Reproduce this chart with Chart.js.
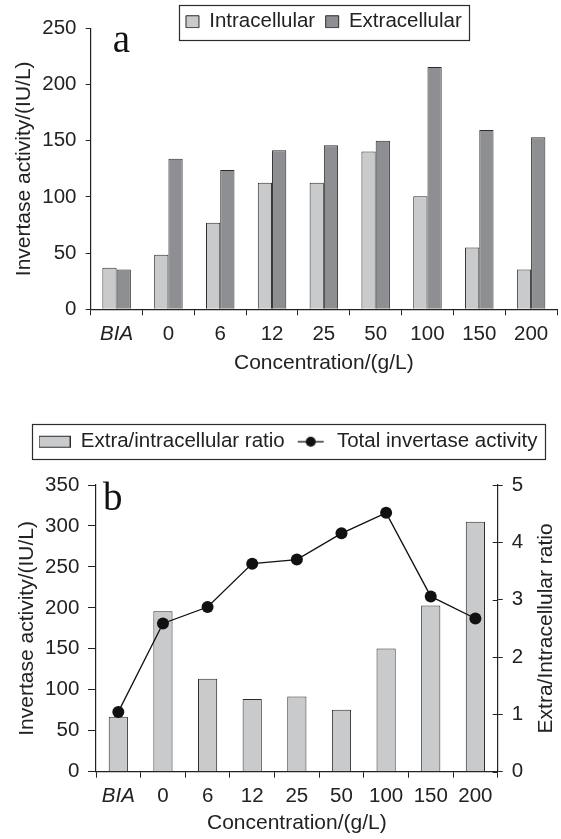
<!DOCTYPE html>
<html>
<head>
<meta charset="utf-8">
<script src="https://cdn.jsdelivr.net/npm/chart.js@4.4.1/dist/chart.umd.min.js"></script>
<style>
  html, body { margin: 0; padding: 0; background: #fff; }
  .panel { position: absolute; left: 0; }
</style>
</head>
<body>
<div class="panel" style="top:0"><canvas id="chartA" width="561" height="400"></canvas></div>
<div class="panel" style="top:400px"><canvas id="chartB" width="561" height="439"></canvas></div>
<script>
/////////////////////
//      Data       //
/////////////////////
const concentrations = ['BIA', '0', '6', '12', '25', '50', '100', '150', '200'];
const intracellular = [37, 48.5, 77, 112.5, 112.5, 140.5, 100.5, 55, 35.5];
const extracellular = [35.5, 134, 124, 141.5, 146, 150, 215.5, 159.5, 153];
const ratio = [0.96, 2.8, 1.62, 1.27, 1.31, 1.08, 2.15, 2.9, 4.36];
const totalActivity = [73, 181, 201, 254, 259, 291, 316, 214, 187];


/////////////////////
//    Constants    //
/////////////////////
const FONT = "'Liberation Sans', Arial, sans-serif";
const INK = '#222';
const LIGHT = '#c9cacc';
const DARK = '#8e8f93';
const EDGE = '#2b2b2b';

Chart.defaults.font.family = FONT;
Chart.defaults.font.size = 20.5;
Chart.defaults.color = INK;
Chart.defaults.animation = false;
Chart.defaults.plugins.tooltip.enabled = false;


////////////////////////////
//    Helper Plugins      //
////////////////////////////
// fixed legend height so the plot area lands where the figure has it
const legendFit = {
  id: 'legendFit',
  beforeUpdate(chart, args, opts) {
    const lg = chart.legend;
    if (!lg || lg._fitPatched) return;
    const fit = lg.fit;
    lg.fit = function () {
      fit.call(this);
      if (opts.height) this.height = opts.height;
    };
    lg._fitPatched = true;
  }
};

// frame around the legend items
const legendFrame = {
  id: 'legendFrame',
  afterDraw(chart, args, opts) {
    const boxes = chart.legend && chart.legend.legendHitBoxes;
    if (!boxes || !boxes.length) return;
    const left = Math.min(...boxes.map(b => b.left)) - opts.pad;
    const right = Math.max(...boxes.map(b => b.left + b.width)) + opts.pad;
    const top = boxes[0].top - opts.pad;
    const bottom = boxes[0].top + boxes[0].height + opts.pad;
    const ctx = chart.ctx;
    ctx.save();
    ctx.strokeStyle = EDGE;
    ctx.lineWidth = 1.2;
    ctx.strokeRect(Math.round(left) + 0.5, Math.round(top) + 0.5, Math.round(right - left), Math.round(bottom - top));
    ctx.restore();
  }
};

// panel letter (a / b) and optional right-hand axis title
const panelText = {
  id: 'panelText',
  afterDraw(chart, args, opts) {
    const ctx = chart.ctx;
    const area = chart.chartArea;
    ctx.save();
    ctx.fillStyle = '#111';
    ctx.font = "39px 'Liberation Serif', 'DejaVu Serif', serif";
    ctx.textBaseline = 'alphabetic';
    ctx.fillText(opts.letter, area.left + opts.letterDx, area.top + opts.letterDy);
    if (opts.rightTitle) {
      ctx.font = '21px ' + FONT;
      ctx.fillStyle = INK;
      ctx.textAlign = 'center';
      ctx.textBaseline = 'middle';
      ctx.translate(opts.rightTitleX, (area.top + area.bottom) / 2);
      ctx.rotate(-Math.PI / 2);
      ctx.fillText(opts.rightTitle, 0, 0);
    }
    ctx.restore();
  }
};

// inner half of the tick marks on the right axis (ticks cross the axis)
const crossTicks = {
  id: 'crossTicks',
  afterDraw(chart, args, opts) {
    if (!opts.scale) return;
    const scale = chart.scales[opts.scale];
    const ctx = chart.ctx;
    ctx.save();
    ctx.strokeStyle = INK;
    ctx.lineWidth = 1;
    for (const t of scale.ticks) {
      const y = Math.round(scale.getPixelForValue(t.value)) + 0.5;
      ctx.beginPath();
      ctx.moveTo(scale.left - opts.length, y);
      ctx.lineTo(scale.left, y);
      ctx.stroke();
    }
    ctx.restore();
  }
};

function legendSwatch(kind) {
  const c = document.createElement('canvas');
  c.width = 32;
  c.height = 14;
  const g = c.getContext('2d');
  if (kind === 'bar') {
    g.fillStyle = LIGHT;
    g.fillRect(0.5, 1.5, 31, 11);
    g.strokeStyle = EDGE;
    g.lineWidth = 1;
    g.strokeRect(0.5, 1.5, 31, 11);
  } else {
    g.strokeStyle = '#111';
    g.lineWidth = 1.3;
    g.beginPath();
    g.moveTo(3, 7);
    g.lineTo(29, 7);
    g.stroke();
    g.fillStyle = '#111';
    g.beginPath();
    g.arc(16, 7, 5, 0, Math.PI * 2);
    g.fill();
  }
  return c;
}

function axisLine() {
  return { display: true, color: INK, width: 1.2 };
}


///////////////////////
//    Chart  (a)     //
///////////////////////
new Chart(document.getElementById('chartA'), {
  type: 'bar',
  data: {
    labels: concentrations,
    datasets: [
      {
        label: 'Intracellular',
        data: intracellular,
        backgroundColor: LIGHT,
        borderColor: EDGE,
        borderWidth: 1,
        categoryPercentage: 0.55,
        barPercentage: 1.0
      },
      {
        label: 'Extracellular',
        data: extracellular,
        backgroundColor: DARK,
        borderColor: EDGE,
        borderWidth: 1,
        categoryPercentage: 0.55,
        barPercentage: 1.0
      }
    ]
  },
  options: {
    responsive: false,
    layout: { padding: { left: 0, right: 4, top: 1, bottom: 0 } },
    scales: {
      x: {
        afterFit: (s) => { s.height = 90.7; },
        grid: { drawOnChartArea: false, color: INK, tickLength: 6 },
        border: axisLine(),
        ticks: {
          padding: 6.9,
          color: INK,
          font: (ctx) => ({ size: 20.5, style: ctx.index === 0 ? 'italic' : 'normal' })
        },
        title: { display: true, text: 'Concentration/(g/L)', font: { size: 21 }, padding: { top: 0, bottom: 24 } }
      },
      y: {
        min: 0,
        max: 250,
        afterFit: (s) => { s.width = 90.7; },
        grid: { drawOnChartArea: false, color: INK, tickLength: 5 },
        border: axisLine(),
        ticks: { stepSize: 50, padding: 9.2, color: INK },
        title: { display: true, text: 'Invertase activity/(IU/L)', font: { size: 21 }, padding: { top: 11.4, bottom: 0 } }
      }
    },
    plugins: {
      legend: {
        position: 'top',
        fullSize: false,
        labels: { boxWidth: 13, boxHeight: 12, padding: 10.5, color: INK }
      },
      legendFit: { height: 27.3 },
      legendFrame: { pad: 7 },
      panelText: { letter: 'a', letterDx: 22, letterDy: 23.5 },
      crossTicks: {}
    }
  },
  plugins: [legendFit, legendFrame, panelText, crossTicks]
});


///////////////////////
//    Chart  (b)     //
///////////////////////
const swatches = [legendSwatch('bar'), legendSwatch('line')];

new Chart(document.getElementById('chartB'), {
  type: 'bar',
  data: {
    labels: concentrations,
    datasets: [
      {
        label: 'Extra/intracellular ratio',
        data: ratio,
        yAxisID: 'y1',
        order: 1,
        backgroundColor: LIGHT,
        borderColor: EDGE,
        borderWidth: 1,
        categoryPercentage: 0.43,
        barPercentage: 1.0
      },
      {
        type: 'line',
        label: 'Total invertase activity',
        data: totalActivity,
        yAxisID: 'y',
        order: 0,
        borderColor: '#111',
        borderWidth: 1.3,
        pointRadius: 6,
        pointBackgroundColor: '#111',
        pointBorderWidth: 0,
        tension: 0
      }
    ]
  },
  options: {
    responsive: false,
    layout: { padding: { left: 15, right: 0, top: 21.45, bottom: 0 } },
    scales: {
      x: {
        afterFit: (s) => { s.height = 67.3; },
        grid: { drawOnChartArea: false, color: INK, tickLength: 6 },
        border: axisLine(),
        ticks: {
          padding: 6.7,
          color: INK,
          font: (ctx) => ({ size: 20.5, style: ctx.index === 0 ? 'italic' : 'normal' })
        },
        title: { display: true, text: 'Concentration/(g/L)', font: { size: 21 }, padding: { top: 0, bottom: 3 } }
      },
      y: {
        position: 'left',
        min: 0,
        max: 350,
        afterFit: (s) => { s.width = 81; },
        grid: { drawOnChartArea: false, color: INK, tickLength: 8 },
        border: axisLine(),
        ticks: { stepSize: 50, padding: 8.7, color: INK },
        title: { display: true, text: 'Invertase activity/(IU/L)', font: { size: 21 }, padding: { top: 0, bottom: 0 } }
      },
      y1: {
        position: 'right',
        min: 0,
        max: 5,
        afterFit: (s) => { s.width = 63.3; },
        grid: { drawOnChartArea: false, color: INK, tickLength: 5 },
        border: axisLine(),
        ticks: { stepSize: 1, padding: 9, color: INK }
      }
    },
    plugins: {
      legend: {
        position: 'top',
        labels: {
          usePointStyle: true,
          pointStyleWidth: 32,
          padding: 10,
          color: INK,
          sort: (a, b) => a.datasetIndex - b.datasetIndex,
          generateLabels: (chart) => {
            const items = Chart.defaults.plugins.legend.labels.generateLabels(chart);
            for (const item of items) {
              item.pointStyle = swatches[item.datasetIndex];
            }
            return items;
          }
        }
      },
      legendFit: { height: 63.55 },
      legendFrame: { pad: 7 },
      panelText: { letter: 'b', letterDx: 7, letterDy: 25, rightTitle: 'Extra/Intracellular ratio', rightTitleX: 546.7 },
      crossTicks: { scale: 'y1', length: 5 }
    }
  },
  plugins: [legendFit, legendFrame, panelText, crossTicks]
});
</script>
</body>
</html>
